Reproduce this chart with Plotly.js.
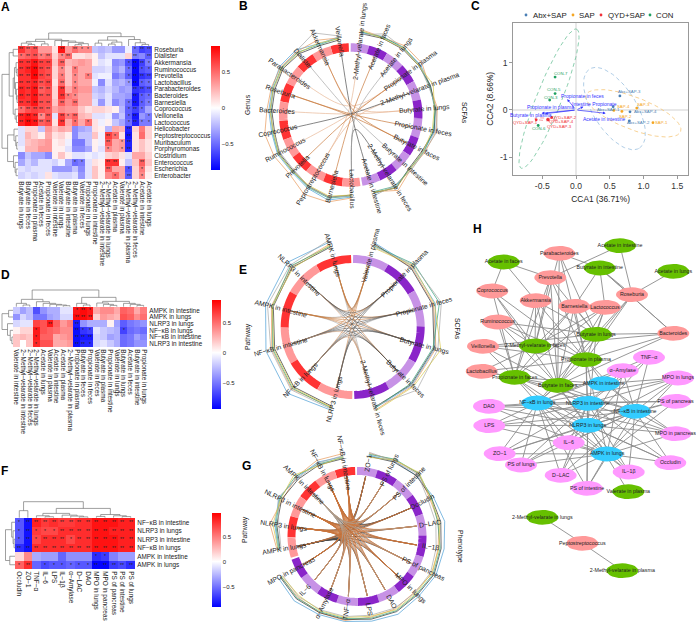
<!DOCTYPE html>
<html><head><meta charset="utf-8">
<script src="https://cdn.plot.ly/plotly-3.0.1.min.js"></script>
<style>html,body{margin:0;padding:0;background:#fff}#c{width:696px;height:622px}</style>
</head><body><div id="c"></div>
<script>
const W=696,H=622,FONT='"Liberation Sans",Arial,sans-serif';
/* ---------- Panel A ---------- */
const aCols=["Butyrate in lungs","Butyrate in feces","Propionate in plasma","Acetate in feces","Propionate in feces","Valerate in intestine","Valerate in lungs","Butyrate in intestine","Butyrate in plasma","Valerate in feces","Propionate in lungs","Propionate in intestine","2−Methyl−velarate in intestine","2−Methyl−velarate in lungs","Acetate in plasma","Valerate in plasma","2−Methyl−velarate in plasma","2−Methyl−velarate in feces","Acetate in intestine","Acetate in lungs"];
const aRows=["Roseburia","Dialister","Akkermansia","Ruminococcus","Prevotella","Lactobacillus","Parabacteroides","Bacteroides","Barnesiella","Coprococcus","Veillonella","Lactococcus","Helicobacter","Peptostreptococcus","Muribaculum","Porphyromonas","Clostridium","Enterococcus","Escherichia","Enterobacter"];
const aZ=[
[.7,.55,.6,.35,.35,.1,.8,.35,.5,.4,.4,-.2,-.25,-.2,-.35,-.35,-.05,-.5,-.65,-.6],
[.5,.55,.6,.45,.5,.15,.4,.5,.1,.1,.15,.05,-.2,-.1,-.1,-.1,.15,-.45,-.4,-.55],
[.7,.7,.8,.65,.65,.2,.55,.25,.3,.35,.3,.05,-.1,-.05,-.4,-.35,-.6,-.85,-.65,-.45],
[.7,.75,.85,.65,.6,.15,.4,.2,.45,.3,.3,-.15,-.15,-.1,-.35,-.25,-.5,-.85,-.6,-.55],
[.7,.7,.85,.65,.6,.15,.45,.2,.4,.3,.45,-.1,-.05,-.05,-.45,-.35,-.55,-.85,-.7,-.65],
[.7,.7,.75,.6,.65,.1,.5,.2,.4,.3,.3,-.05,-.4,-.1,-.3,-.25,-.35,-.85,-.55,-.5],
[.75,.7,.8,.55,.6,.15,.7,.3,.45,.35,.35,-.2,-.25,-.15,-.25,-.35,-.3,-.7,-.65,-.6],
[.75,.7,.8,.6,.6,.15,.7,.45,.4,.3,.3,-.15,-.2,-.1,-.3,-.3,-.35,-.8,-.55,-.5],
[.7,.7,.8,.6,.6,.2,.55,.4,.5,.3,.3,-.1,-.35,-.1,-.4,-.3,-.5,-.8,-.55,-.45],
[.5,.6,.65,.6,.55,.3,.4,.35,.35,.2,.1,.15,.15,.1,.05,-.25,-.55,-.65,-.5,-.3],
[.75,.8,.75,.4,.6,-.1,.65,.45,.55,.25,.2,-.1,-.1,-.05,-.35,-.2,-.55,-.8,-.35,-.45],
[.75,.85,.8,.55,.6,.1,.7,.3,.5,.3,.5,.1,-.05,.05,-.2,-.3,-.5,-.75,-.45,-.45],
[-.1,.15,.15,-.2,.35,.2,.3,.25,-.4,-.3,-.25,.1,.05,-.25,.3,.25,-.75,.15,.45,.15],
[-.1,.25,.15,.05,.3,.1,.15,.05,-.4,-.2,-.2,.2,-.05,.65,.5,.1,-.8,.1,.5,.15],
[-.1,.2,.25,.3,.35,.05,.1,-.05,-.45,-.45,-.2,.05,-.05,.55,.3,.35,-.75,.1,.2,.1],
[-.05,.25,.25,.35,.35,.05,.05,-.1,-.4,-.4,-.3,.05,-.1,.4,.3,.35,-.75,.1,.2,.1],
[-.4,-.2,-.3,-.3,-.4,.05,.2,.05,-.1,-.1,-.05,-.1,-.05,.15,.2,.1,-.1,.3,.3,.15],
[-.3,-.15,-.25,-.1,-.1,-.15,-.05,-.3,-.5,-.45,-.1,.1,.05,.7,.7,.05,-.2,.2,.55,.2],
[-.1,-.15,-.1,-.1,-.1,-.35,-.35,-.35,-.2,-.4,-.1,.2,.05,.55,.3,.3,-.6,.15,.45,.1],
[-.15,-.1,-.15,-.1,.1,-.1,-.15,-.15,-.1,-.35,-.1,.2,.05,.4,.5,.3,-.55,.15,.4,.05]];
const aStars=["222...2.211......122","12212.12.........2.2","22222.2.........1221","22222.1.1.......1211","22222.1.1.1.....1222","22222.2.1.......1211","22222.2.1........222","22222.211........211","22222.2.2.......1211","12222...........121.","22212.212.......12.1","22222.2.1.1.....1211","................2...",".............21.2...",".............2.12...",".............1.12...","....................","........11...22...2.",".............2..1.1.","..............1.2.1."];
const aColTree=[[[[0,[1,2,.12],.22],[3,4,.16],.35],[5,[6,[7,[[8,9,.1],10,.18],.28],.38],.42],.52],[[[11,12,.22],[[13,14,.15],15,.3],.45],[16,[17,[18,19,.12],.25],.5],.72],1];
const aRowTree=[[[0,1,.3],[[[2,[3,4,.06],.12],[5,[6,[7,8,.06],.1],.16],.22],[9,[10,11,.1],.18],.3],.55],[[12,[13,[14,15,.08],.14],.25],[16,[17,[18,19,.12],.18],.28],.65],1];
/* ---------- Panel D ---------- */
const dCols=["Valerate in intestine","2−Methyl−velarate in intestine","2−Methyl−velarate in feces","2−Methyl−velarate in lungs","Acetate in lungs","Valerate in plasma","Acetate in intestine","Acetate in plasma","2−Methyl−velarate in plasma","Propionate in plasma","Butyrate in feces","Propionate in feces","Valerate in feces","Butyrate in plasma","Propionate in intestine","Valerate in lungs","Butyrate in lungs","Acetate in feces","Butyrate in intestine","Propionate in lungs"];
const dRows=["AMPK in intestine","AMPK in lungs","NLRP3 in lungs","NF−κB in lungs","NF−κB in intestine","NLRP3 in intestine"];
const dZ=[
[-.2,-.35,-.25,-.65,-.4,-.3,-.3,-.1,-.1,.8,.85,.8,.3,.4,.4,.3,.55,.5,.3,.45],
[-.4,-.15,-.25,-.5,-.5,-.35,-.3,-.15,-.15,.85,.85,.8,.15,.35,.3,.25,.6,.55,.4,.5],
[-.15,-.1,-.1,.65,.6,.8,.55,.35,.45,-.85,-.4,-.3,-.3,-.3,.05,-.35,-.6,-.5,-.45,-.4],
[.05,.15,.15,.8,.6,.55,.5,.4,.4,-.9,-.75,-.7,-.1,-.2,-.25,-.3,-.7,-.55,-.5,-.55],
[.2,.25,.2,.8,.55,.55,.3,.35,.4,-.9,-.85,-.85,-.15,-.2,-.35,-.3,-.55,-.5,-.35,-.45],
[.2,0,.2,.75,.6,.6,.3,.3,.35,-.9,-.8,-.8,-.15,-.1,-.2,-.3,-.55,-.5,-.4,-.4]];
const dStars=[".........121........",".........222........",".....2...2..........","...1.....211....1...","...1.....222........","...1.....221........"];
const dColTree=[[[0,[1,2,.1],.2],[3,[4,[5,[6,[7,8,.06],.1],.14],.2],.3],.44],[[9,[10,11,.1],.2],[[12,[13,[14,15,.08],.14],.22],[16,[17,[18,19,.08],.14],.2],.32],.56],1];
const dRowTree=[[0,1,.4],[2,[3,[4,5,.1],.25],.5],1];
/* ---------- Panel F ---------- */
const fCols=["Occludin","ZO−1","TNF−α","IL−6","LPS","IL−1β","α−Amylase","D−LAC","DAO","MPO in lungs","MPO in pancreas","PS of pancreas","PS of intestine","PS of lungs"];
const fRows=["NF−κB in intestine","NLRP3 in lungs","NLRP3 in intestine","NF−κB in lungs","AMPK in intestine","AMPK in lungs"];
const fZ=[
[-.6,-.85,.85,.75,.8,.75,.75,.8,.8,.9,.9,.9,.85,.85],
[-.6,-.85,.75,.7,.7,.8,.8,.8,.8,.9,.9,.85,.85,.85],
[-.6,-.85,.7,.8,.8,.8,.7,.8,.8,.9,.9,.9,.85,.85],
[-.75,-.85,.8,.8,.8,.8,.8,.8,.8,.9,.9,.9,.85,.85],
[.15,.45,-.3,-.35,-.35,-.55,-.4,-.4,-.4,-.75,-.7,-.45,-.35,-.35],
[.6,.8,-.55,-.65,-.6,-.6,-.55,-.6,-.6,-.9,-.9,-.7,-.65,-.75]];
const fStars=["12222222222222","12111222222222","12122212222222","22222222222222",".........11...","12.11111122222"];
const fColTree=[[0,1,.44],[[[2,[3,4,.06],.12],[5,[6,[7,8,.05],.1],.16],.27],[[9,10,.08],[11,[12,13,.07],.12],.2],.58],1];
const fRowTree=[[0,[1,[2,3,.1],.2],.35],[4,5,.55],1];
/* ---------- Panel C ---------- */
const cGroups=["Abx+SAP","SAP","QYD+SAP","CON"];
const cColors=["#4a7fb5","#f5a623","#f0303a","#1fa060"];
const cLabels=[["Abx+SAP-3","Abx+SAP-1","Abx+SAP-4","Abx+SAP-2"],["SAP-3","SAP-4","SAP-2","SAP-1"],["QYD+SAP-1","QYD+SAP-2","QYD+SAP-4","QYD+SAP-3"],["CON-7","CON-5","CON-3","CON-6"]];
const cX=[[.65,.55,.8,.79],[.9,.56,.68,1.14],[-.59,-.36,-.41,-.42],[-.31,-.31,-.39,-.56]];
const cY=[[.3,.07,-.04,-.23],[.04,-.01,-.03,-.27],[-.21,-.16,-.21,-.2],[.7,.35,.21,-.33]];
const cLabelDx=[[10,-5,15,9],[7,10,4,9],[-11,13,13,12],[6,-1,1,1]];
const cLabelDy=[[4,-3,0,-2],[4,4,-5,0],[-3,0,-2,-7],[4,4,3,-3]];
const cEllipseC=[[.57,.03],[.85,-.07],[-.44,-.2],[-.4,.24]];
const cEllipseA=[[.37,-.84],[.70,-.39],[.17,-.02],[.41,1.48]];
const cEllipseB=[[.27,.25],[.085,.32],[.01,.03],[.173,-.1]];
const cVecNames=["Propionate in feces","Propionate in plasma","Intestine Propionate","Butyrate in plasma","Acetate in intestine"];
const cVecX=[-.13,-.46,.11,-.51,.44];
const cVecY=[.23,-.08,.07,-.07,-.07];
const cVecLabelX=[.09,-.38,.27,-.66,.42];
const cVecLabelY=[.3,.06,.13,-.11,-.2];
/* ---------- Chord panels ---------- */
const bLeft=["Veillonella","Akkermansia","Dialister","Parabacteroides","Roseburia","Bacteroides","Coprococcus","Ruminococcus","Prevotella","Peptostreptococcus","Barnesiella","Lactobacillus"];
const bRight=["2-Methyl-velarate in lungs","Acetate in faces","Acetate in lungs","Propionate in plasma","2-Methyl-velarate in plasma","Butyrate in lungs","Propionate in feces","Butyrate in faces","Butyrate in intestine","2-Methyl-velarate in feces","Acetate in intestine"];
const bLinkFrom=[5,4,4,3,6,7,8,2,9,9,10,11,11,1,0,1];
const bLinkTo=[5,6,7,3,4,3,3,8,0,4,1,2,9,5,10,7];
const bLinkClass=[0,1,1,0,3,0,1,2,0,0,1,2,3,0,3,1];
const bLinesL=[[79,78,85,86,83,82,81,83,82,85,88,82],[78,82,83,85,84,84,88,87,85,92,90,83],[76,76,80,82,80,79,78,81,80,83,85,80],[78,77,82,84,82,80,80,82,81,84,86,81],[80,90,84,83,81,81,79,80,79,83,85,81],[77,79,81,83,82,81,79,82,81,82,84,80]];
const bLinesR=[[83,85,85,86,85,84,86,81,80,85,82],[86,84,88,88,84,87,87,83,81,89,80],[82,83,84,84,85,85,85,80,79,86,81],[84,84,86,85,84,85,84,82,80,84,80],[81,88,85,85,83,86,88,82,82,83,84],[85,83,85,84,88,84,83,81,80,86,81]];
const eLeft=["AMPK in lungs","NLRP3 in intestine","AMPK in intestine","NF−κB in intestine","NF−κB in lungs","NLRP3 in lungs"];
const eRight=["Valerate in plasma","Propionate in plasma","Propionate in feces","Butyrate in lungs","Butyrate in feces","2-Methyl-velarate in feces"];
const eLinesL=[[88,92,90,90,93,86],[86,86,84,84,87,83],[83,85,82,81,84,82],[84,87,83,83,86,84],[90,88,88,85,88,85],[85,84,83,82,85,83]];
const eLinesR=[[87,85,86,85,83,84],[85,84,84,86,84,86],[86,83,83,84,82,83],[84,88,90,83,81,84],[83,87,92,88,90,82],[82,86,85,91,85,87]];
const gLeft=["NF−κB in intestine","NF−κB in lungs","AMPK in intestine","NLRP3 in intestine","NLRP3 in lungs","AMPK in lungs"];
const gRight=["ZO−1","PS of lungs","PS of intestine","Occludin","D−LAC","IL−1β","PS of pancreas","MPO in lungs","DAO","LPS","TNF−α","α−Amylase","IL−6","MPO in pancreas"];
const gLinesL=[[81,84,84,87,83,80],[84,86,85,83,88,81],[79,81,82,84,81,78],[80,82,86,86,82,79],[82,83,83,88,79,77],[81,80,88,85,85,80]];
const gLinesR=[[82,84,85,86,89,88,88,86,88,86,86,87,90,89],[84,85,88,82,83,82,84,80,82,82,85,85,85,86],[81,83,85,84,85,85,86,84,85,84,84,85,87,87],[83,86,88,84,82,84,85,83,84,83,83,84,86,86],[85,84,87,80,80,80,82,81,81,80,81,82,84,84],[80,85,89,83,84,83,83,82,83,81,82,83,83,85]];
const lineColors=["#4a9ed6","#e89a5a","#2f2f2f","#35a07a","#a8a8a8","#d8c84a"];
/* ---------- Panel H ---------- */
const hNames=["Acetate in intestine","Acetate in faces","Butyrate in intestine","Acetate in lungs","Butyrate in lungs","2-Methyl-velarate in faces","Propionate in plasma","Propionate in faces","Butyrate in faces","Valerate in plasma","2-Methyl-velarate in lungs","2-Methyl-velarate in plasma",
"Parabacteroides","Prevotella","Coprococcus","Akkermansia","Barnesiella","Lactococcus","Roseburia","Ruminococcus","Bacteroides","Veillonella","Lactobacillus","Peptostreptococcus",
"AMPK in intestine","NF−κB in lungs","NLRP3 in intestine","NF−κB in intestine","NLRP3 in lungs","AMPK in lungs",
"TNF−α","α−Amylase","MPO in lungs","PS of pancreas","DAO","MPO in pancreas","LPS","IL−6","ZO−1","PS of lungs","Occludin","D−LAC","IL−1β","PS of intestine"];
const hGroups=[0,0,0,0,0,0,0,0,0,0,0,0,1,1,1,1,1,1,1,1,1,1,1,1,2,2,2,2,2,2,3,3,3,3,3,3,3,3,3,3,3,3,3,3];
const hX=[620,503.7,599.7,673.3,596,535,586,514.7,557.7,628.3,542.3,622.3,559.3,550.3,492.3,535.7,574.3,605,632,497.7,673.3,483,481.7,582.3,603.7,537.3,587.7,635,587.7,607,649,622.7,678,675.5,489,675.5,489.3,568.7,499.7,521,670.3,560.7,628.7,587];
const hY=[245.7,262,268,271.3,334.3,346,359.7,377.3,385.3,491.7,517.3,570.7,253.3,277.7,291,300.7,306.3,307.3,294.7,322,333.3,346.3,371.3,543.3,383.7,403,403.3,411.3,425.3,454,357.3,370.7,378,401.3,406.3,433.7,425.7,442.7,453.7,465,462.7,475.3,472,488.3];
const hColors=["#66c000","#ff9999","#33ccff","#ff99ff"];
const hEdgeFrom=[12,12,12,12,12,13,13,13,13,13,13,13,14,14,14,14,14,15,15,15,15,15,15,16,16,16,16,16,16,17,17,17,17,17,17,18,18,18,18,18,18,19,19,19,19,19,20,20,20,20,20,21,21,21,21,21,22,22,22,22,23,23,2,
24,24,24,25,25,25,26,26,26,27,27,27,28,28,28,28,29,29,29,25,28];
const hEdgeTo=[2,4,5,6,8,0,1,4,5,6,7,8,1,5,6,7,8,1,4,5,6,7,8,2,4,5,6,7,8,2,4,5,6,7,8,0,2,3,4,6,8,4,5,6,7,8,4,5,6,8,2,4,5,6,7,8,5,6,7,8,10,11,20,
6,7,8,6,7,8,6,7,8,6,7,8,6,7,8,9,6,7,8,4,4];
/* ---------- Helpers ---------- */
const layout={width:W,height:H,margin:{l:0,r:0,t:0,b:0,autoexpand:false},paper_bgcolor:'#fff',plot_bgcolor:'rgba(0,0,0,0)',showlegend:false,font:{family:FONT,color:'#222'},annotations:[]};
const traces=[];
const domX=(a,b)=>[a/W,b/W], domY=(a,b)=>[1-b/H,1-a/H];
layout.xaxis5={domain:[0,1],range:[0,W],visible:false,fixedrange:true,anchor:'y5'};
layout.yaxis5={domain:[0,1],range:[H,0],visible:false,fixedrange:true,anchor:'x5'};
function note(x,y,text,size,o){layout.annotations.push(Object.assign({x,y,xref:'x5',yref:'y5',text:String(text),showarrow:false,xanchor:'center',yanchor:'middle',borderpad:0,font:{size,family:FONT,color:'#222'}},o||{}));}
function polyline(xs,ys,color,width,dash){traces.push({type:'scatter',mode:'lines',x:xs,y:ys,xaxis:'x5',yaxis:'y5',hoverinfo:'skip',connectgaps:false,line:{color,width,dash:dash||'solid',simplify:false}});}
function heat(id,cols,rows,z,stars,x0,x1,y0,y1,zmin,zmax,cbx,cby0,cby1){
  const sid=id===1?'':String(id), mid=-zmin/(zmax-zmin);
  layout['xaxis'+sid]={domain:domX(x0,x1),range:[-.5,cols.length-.5],type:'category',categoryorder:'array',categoryarray:cols,tickmode:'linear',tick0:0,dtick:1,tickangle:90,ticklen:0,showgrid:false,zeroline:false,showline:false,side:'bottom',anchor:'y'+sid,fixedrange:true,tickfont:{size:6.4,family:FONT,color:'#222'}};
  layout['yaxis'+sid]={domain:domY(y0,y1),range:[rows.length-.5,-.5],type:'category',categoryorder:'array',categoryarray:rows,tickmode:'linear',tick0:0,dtick:1,ticklen:0,showgrid:false,zeroline:false,showline:false,side:'right',anchor:'x'+sid,fixedrange:true,tickfont:{size:6.4,family:FONT,color:'#222'}};
  traces.push({type:'heatmap',x:cols,y:rows,z,zmin,zmax,xaxis:'x'+sid,yaxis:'y'+sid,hoverinfo:'skip',
    text:stars.map(s=>s.split('').map(c=>c==='2'?'**':c==='1'?'*':'')),texttemplate:'%{text}',textfont:{size:5,color:'#222',family:FONT},
    colorscale:[[0,'#0000ff'],[mid,'#ffffff'],[1,'#ff0000']],
    colorbar:{x:cbx/W,xanchor:'left',y:1-cby0/H,yanchor:'top',xpad:0,ypad:0,lenmode:'pixels',len:cby1-cby0,thicknessmode:'pixels',thickness:8.5,outlinewidth:0,ticks:'',tickmode:'array',tickvals:[.5,0,-.5],ticktext:['0.5','0','−0.5'],tickfont:{size:6,family:FONT,color:'#222'}}});
}
function dendro(tree,base,height,start,cell,horizontal){
  const xs=[],ys=[];
  const add=(p,h)=>{const a=start+(p+.5)*cell,b=base-h*height; if(horizontal){xs.push(b);ys.push(a);}else{xs.push(a);ys.push(b);}};
  function walk(n){
    if(typeof n==='number')return{p:n,h:0};
    const l=walk(n[0]),r=walk(n[1]),h=n[2];
    add(l.p,l.h);add(l.p,h);add(r.p,h);add(r.p,r.h);xs.push(null);ys.push(null);
    return{p:(l.p+r.p)/2,h};
  }
  walk(tree);polyline(xs,ys,'#777',.7);
}
function chord(cx,cy,mid,thick,left,right,linkList,linesL,linesR,shift,hubX,hubY){
  const n=left.length+right.length,w=360/n,rad=Math.PI/180;
  const pt=(a,r)=>[cx+r*Math.sin((a+shift)*rad),cy-r*Math.cos((a+shift)*rad)];
  const cL=['#ff3333','#ff9999'],cR=['#c792e6','#8a25c9'];
  const arc=(a0,a1,col)=>{const xs=[],ys=[];for(let k=0;k<=12;k++){const p=pt(a0+(a1-a0)*k/12,mid);xs.push(p[0]);ys.push(p[1]);}polyline(xs,ys,col,thick);};
  const aL=j=>-(j+.5)*w,aR=i=>(i+.5)*w;
  left.forEach((s,j)=>arc(-j*w-(j===0?.8:0),-(j+1)*w+(j===left.length-1?.8:0),cL[j%2]));
  right.forEach((s,i)=>arc(i*w+(i===0?.8:0),(i+1)*w-(i===right.length-1?.8:0),cR[i%2]));
  const groups={},hx=cx+hubX,hy=cy+hubY;
  linkList.forEach(l=>{
    const key=l[2]+'|'+l[3];(groups[key]=groups[key]||{c:l[2],w:l[3],x:[],y:[]});
    const P=pt(aL(l[0]),mid-thick/2-1),Q=pt(aR(l[1]),mid-thick/2-1);
    for(let k=0;k<=20;k++){const t=k/20,u=1-t,pw=u*u*u,qw=t*t*t,cw=1-pw-qw;groups[key].x.push(pw*P[0]+cw*hx+qw*Q[0]);groups[key].y.push(pw*P[1]+cw*hy+qw*Q[1]);}
    groups[key].x.push(null);groups[key].y.push(null);
  });
  Object.values(groups).forEach(g=>polyline(g.x,g.y,g.c,g.w));
  linesL.forEach((r,s)=>{const ps=r.map((v,j)=>pt(aL(j),v));polyline(ps.map(p=>p[0]),ps.map(p=>p[1]),lineColors[s],.7);});
  linesR.forEach((r,s)=>{const ps=r.map((v,i)=>pt(aR(i),v));polyline(ps.map(p=>p[0]),ps.map(p=>p[1]),lineColors[s],.7);});
  const lab=(a,t)=>{const p=pt(a,74),m=((a+shift)%360+360)%360;let ang=m-90;if(m>180)ang=m+90;note(p[0],p[1],t,6.8,{textangle:ang});};
  left.forEach((t,j)=>lab(aL(j),t));right.forEach((t,i)=>lab(aR(i),t));
}
/* ---------- Build ---------- */
heat(1,aCols,aRows,aZ,aStars,18,152,46,179,-.87,.87,211,46,170);
heat(2,dCols,dRows,dZ,dStars,13,147,307,347,-.946,.885,212,300,409);
heat(3,fCols,fRows,fZ,fStars,15,135,518,569,-.91,.97,212,513,607);
dendro(aColTree,46,13,18,134/20,false);dendro(aRowTree,18,16,46,133/20,true);
dendro(dColTree,306.7,16.7,13,134/20,false);dendro(dRowTree,13,11,307,40/6,true);
dendro(fColTree,517.7,16,15,120/14,false);dendro(fRowTree,15,9.5,518,51/6,true);

const bClass=[['#e8b896',.7],['#c87a3c',.7],['#a8a8a8',.7],['#505050',.7]];
chord(350.7,115,67.5,8.5,bLeft,bRight,bLinkFrom.map((f,i)=>[f,bLinkTo[i],bClass[bLinkClass[i]][0],bClass[bLinkClass[i]][1]]),bLinesL,bLinesR,-.8,0,0);
const norm=s=>s.replace(/-/g,'−');
const eLinks=[];eLeft.forEach((a,j)=>eRight.forEach((b,i)=>{const v=dZ[dRows.indexOf(a)][dCols.indexOf(norm(b))];eLinks.push([j,i,v>0?(v>.5?'#c87a3c':'#d9a67e'):(v<-.5?'#555555':'#a0a0a0'),.55]);}));
chord(352.7,327,68,8,eLeft,eRight,eLinks,eLinesL,eLinesR,-.5,-1,-4);
const gLinks=[];gLeft.forEach((a,j)=>gRight.forEach((b,i)=>{const v=fZ[fRows.indexOf(a)][fCols.indexOf(b)];gLinks.push([j,i,v>0?'#c8743c':(v<-.5?'#4a4a4a':'#b0a090'),.75]);}));
chord(357,536.4,65.5,8,gLeft,gRight,gLinks,gLinesL,gLinesR,-.8,-5,-3);

/* Panel C */
layout.xaxis4={domain:domX(513.3,688),range:[-.929,1.659],anchor:'y4',showgrid:false,zeroline:true,zerolinecolor:'#e8e8e8',zerolinewidth:2,showline:true,mirror:true,linecolor:'#999',linewidth:1,ticks:'outside',ticklen:3,tickcolor:'#999',tickvals:[-.5,0,.5,1,1.5],ticktext:['-0.5','0.0','0.5','1.0','1.5'],tickfont:{size:8.6,family:FONT,color:'#333'},title:{text:'CCA1 (36.71%)',font:{size:8.4,family:FONT,color:'#222'},standoff:5},fixedrange:true};
layout.yaxis4={domain:domY(22.7,175),range:[-1.383,1.857],anchor:'x4',showgrid:false,zeroline:true,zerolinecolor:'#e8e8e8',zerolinewidth:2,showline:true,mirror:true,linecolor:'#999',linewidth:1,ticks:'outside',ticklen:3,tickcolor:'#999',tickvals:[-1,0,1],ticktext:['-1','0','1'],tickfont:{size:8.6,family:FONT,color:'#333'},title:{text:'CCA2 (8.66%)',font:{size:8.4,family:FONT,color:'#222'},standoff:4},fixedrange:true};
cGroups.forEach((g,k)=>{
  const ex=[],ey=[];
  for(let d=0;d<=72;d++){const t=d/72*2*Math.PI;ex.push(cEllipseC[k][0]+cEllipseA[k][0]*Math.cos(t)+cEllipseB[k][0]*Math.sin(t));ey.push(cEllipseC[k][1]+cEllipseA[k][1]*Math.cos(t)+cEllipseB[k][1]*Math.sin(t));}
  const soft={0:'#9cc0e0',1:'#f5c77a',2:'#f08a90',3:'#6fc39a'}[k];
  traces.push({type:'scatter',mode:'lines',x:ex,y:ey,xaxis:'x4',yaxis:'y4',hoverinfo:'skip',line:{color:soft,width:.8,dash:'4px,3px'}});
  traces.push({type:'scatter',mode:'markers',name:g,x:cX[k],y:cY[k],xaxis:'x4',yaxis:'y4',hoverinfo:'skip',marker:{size:2.8,color:cColors[k]}});
  cLabels[k].forEach((t,i)=>layout.annotations.push({x:cX[k][i],y:cY[k][i],xref:'x4',yref:'y4',text:t,showarrow:false,xshift:cLabelDx[k][i],yshift:cLabelDy[k][i],font:{size:4.3,family:FONT,color:cColors[k]}}));
});
cVecNames.forEach((t,i)=>{
  layout.annotations.push({x:cVecX[i],y:cVecY[i],ax:0,ay:0,axref:'x4',ayref:'y4',xref:'x4',yref:'y4',text:'',showarrow:true,arrowhead:2,arrowsize:.8,arrowwidth:.7,arrowcolor:'#3333ff'});
  layout.annotations.push({x:cVecLabelX[i],y:cVecLabelY[i],xref:'x4',yref:'y4',text:t,showarrow:false,font:{size:5,family:FONT,color:'#3333ff'}});
});
const lgX=[526,573,601,650],lgT=[532,578,607,655];
traces.push({type:'scatter',mode:'markers',x:lgX,y:[15,15,15,15],xaxis:'x5',yaxis:'y5',hoverinfo:'skip',marker:{size:2.8,color:cColors}});
cGroups.forEach((g,i)=>note(lgT[i],15,g,7.8,{xanchor:'left'}));

/* Panel H */
const ex=[],ey=[];hEdgeFrom.forEach((f,i)=>{ex.push(hX[f],hX[hEdgeTo[i]],null);ey.push(hY[f],hY[hEdgeTo[i]],null);});
fRows.forEach((p,r)=>fCols.forEach((c,k)=>{if(fStars[r][k]!=='.'){const a=hNames.indexOf(p),b=hNames.indexOf(c);ex.push(hX[a],hX[b],null);ey.push(hY[a],hY[b],null);}}));
polyline(ex,ey,'#8c8c8c',.9);
hColors.forEach((col,g)=>{
  const xs=[],ys=[];
  hNames.forEach((n,i)=>{if(hGroups[i]!==g)return;for(let d=0;d<=28;d++){const t=d/28*2*Math.PI;xs.push(hX[i]+16*Math.cos(t));ys.push(hY[i]+7.4*Math.sin(t));}xs.push(null);ys.push(null);});
  traces.push({type:'scatter',mode:'lines',x:xs,y:ys,xaxis:'x5',yaxis:'y5',fill:'toself',fillcolor:col,hoverinfo:'skip',line:{width:0,color:col}});
});
traces.push({type:'scatter',mode:'text',x:hX,y:hY,text:hNames,xaxis:'x5',yaxis:'y5',hoverinfo:'skip',textposition:'middle center',textfont:{size:5.3,family:FONT,color:'#222'}});

/* Side titles and panel letters */
note(247,105,'Genus',6.8,{textangle:-90});note(465,113,'SCFAs',6.8,{textangle:90});
note(248,337,'Pathway',6.8,{textangle:-90});note(458,329,'SCFAs',6.8,{textangle:90});
note(245,530,'Pathway',6.8,{textangle:-90});note(460,546,'Phenotype',6.8,{textangle:90});
[['A',5,7],['B',243,6],['C',475,6],['D',5,275],['E',243,270],['F',4,471],['G',246,466],['H',477,229]].forEach(l=>note(l[1],l[2],l[0],12,{font:{size:12,family:FONT,color:'#000',weight:700}}));
Plotly.newPlot('c',traces,layout,{staticPlot:true,displayModeBar:false});
</script></body></html>
